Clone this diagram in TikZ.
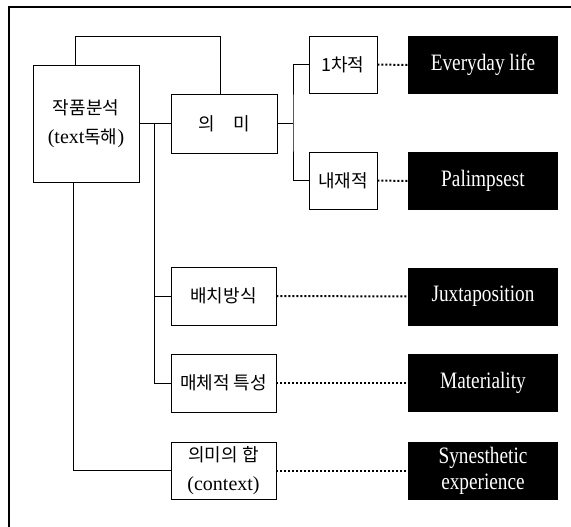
\documentclass[tikz,border=0pt]{standalone}
\usepackage{fontspec}
\setmainfont{Liberation Serif}
\newfontfamily\kr{Noto Sans CJK KR}
\newfontfamily\cond[FakeStretch=0.82]{Liberation Serif}
\usetikzlibrary{calc}
\tikzset{
  wbox/.style={draw, line width=0.9pt, fill=white, inner sep=0pt, align=center,
    font=\kr\fontsize{18}{29}\selectfont},
  bbox/.style={fill=black, text=white, inner sep=0pt, align=center,
    minimum width=150pt, minimum height=58pt, font=\cond\fontsize{23.5}{26}\selectfont},
  link/.style={line width=0.9pt},
  dots/.style={line width=2pt, dash pattern=on 2pt off 2pt}
}
\begin{document}
\begin{tikzpicture}[x=1pt,y=-1pt]
\useasboundingbox (0,0) rectangle (571,527);
\fill[white] (0,0) rectangle (571,527);
% frame
\draw[line width=1.2pt] (9,527) -- (9,7) -- (571,7);
% left nodes
\node[wbox, minimum width=106pt, minimum height=117pt] (main) at (86,123.5) {작품분석\\{\rmfamily\fontsize{20}{29}\selectfont (text}독해{\rmfamily\fontsize{20}{29}\selectfont )}};
\node[wbox, minimum width=106pt, minimum height=59pt] (uimi) at (224,123.5) {의\quad 미};
\node[wbox, minimum width=68pt, minimum height=57pt] (cha) at (343,64.5) {1차적};
\node[wbox, minimum width=68pt, minimum height=57pt] (nae) at (343,180.5) {내재적};
\node[wbox, minimum width=105pt, minimum height=58pt] (bae) at (223.5,296) {배치방식};
\node[wbox, minimum width=105pt, minimum height=58pt] (mae) at (223.5,383) {매체적 특성};
\node[wbox, minimum width=105pt, minimum height=57pt] (hap) at (223.5,470.5) {의미의 합\\{\rmfamily\fontsize{20}{29}\selectfont (context)}};
% black nodes
\node[bbox] (ev) at (483,65) {Everyday life};
\node[bbox] (pal) at (483,181) {Palimpsest};
\node[bbox] (jux) at (483,296.5) {Juxtaposition};
\node[bbox] (mat) at (483,383) {Materiality};
\node[bbox] (syn) at (483,470.5) {Synesthetic\\experience};
% connectors
\coordinate (top) at (75,36);
\draw[link] (main.north -| top) |- (top) -| ([xshift=-4pt]uimi.north);
\draw[link] (main.east) -- (uimi.west);
\coordinate (j1) at (154,123.5);
\draw[link] (j1) |- (mae.west);
\draw[link] (j1 |- bae.west) -- (bae.west);
\coordinate (j0) at (73,182);
\draw[link] (j0) |- (hap.west);
\coordinate (j2) at (293,123.5);
\draw[link] (uimi.east) -- (j2);
\draw[link] (cha.west) -| (j2) |- (nae.west);
% dotted
\draw[dots] (cha.east) -- (ev.west);
\draw[dots] (nae.east) -- (pal.west);
\draw[dots] (bae.east) -- (jux.west);
\draw[dots] (mae.east) -- (mat.west);
\draw[dots] (hap.east) -- (syn.west);
\end{tikzpicture}
\end{document}
